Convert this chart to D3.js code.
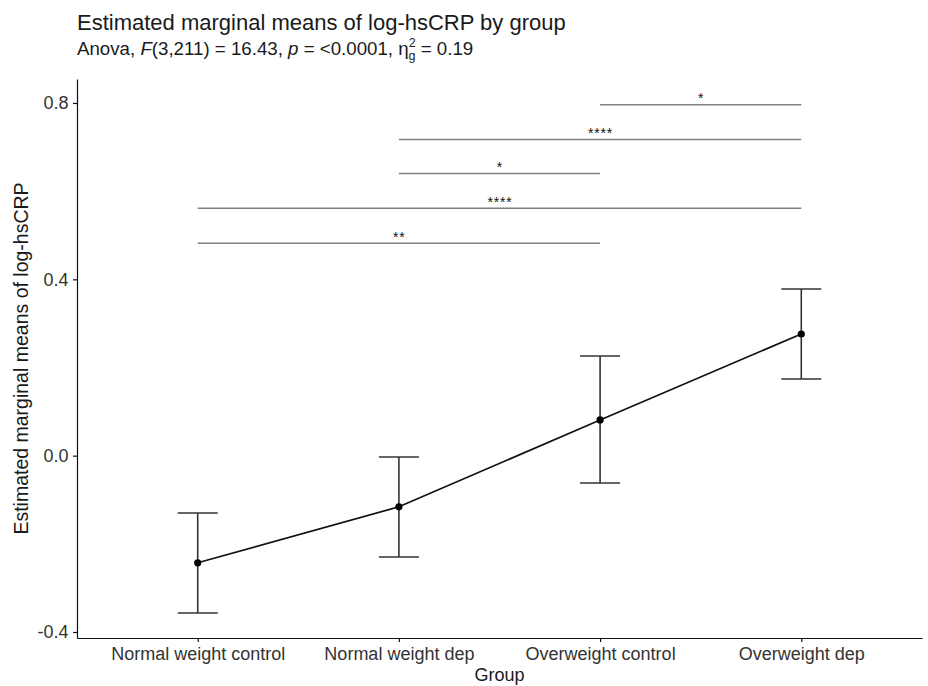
<!DOCTYPE html>
<html lang="en">
<head>
    <meta charset="UTF-8">
    <title>Estimated marginal means of log-hsCRP by group</title>
    <script src="https://d3js.org/d3.v7.min.js"></script>
    <style>
        body { margin: 0; background: #fff; }
        svg { font-family: "Liberation Sans", Arial, sans-serif; }
        .title { font-size: 22px; fill: #1a1a1a; }
        .subtitle { font-size: 18.7px; fill: #1a1a1a; }
        .axis-title { font-size: 18px; fill: #1a1a1a; }
        .tick text { font-size: 18px; fill: #333; font-family: "Liberation Sans", Arial, sans-serif; }
        .tick line, .domain { stroke: #111; stroke-width: 1.2px; }
        .sig { font-size: 14px; fill: #111; letter-spacing: 0.8px; }
    </style>
</head>
<body>
    <svg width="928" height="686"></svg>

    <script>
        // groups and estimated marginal means with 95% CI
        var groups = ["Normal weight control", "Normal weight dep", "Overweight control", "Overweight dep"];
        var emmean = [-0.243, -0.116, 0.081, 0.276];
        var lowerCL = [-0.357, -0.230, -0.062, 0.174];
        var upperCL = [-0.130, -0.003, 0.226, 0.378];

        // pairwise comparisons shown as brackets
        var compFrom = ["Overweight control", "Normal weight dep", "Normal weight dep", "Normal weight control", "Normal weight control"];
        var compTo = ["Overweight dep", "Overweight dep", "Overweight control", "Overweight dep", "Overweight control"];
        var compY = [0.796, 0.717, 0.640, 0.561, 0.482];
        var compLabel = ["*", "****", "*", "****", "**"];

        var yTicks = [-0.4, 0.0, 0.4, 0.8];

        var panel = { left: 77, right: 922, top: 79, bottom: 638 };

        var svg = d3.select("svg");

        var x = d3.scalePoint()
            .domain(groups)
            .range([panel.left, panel.right])
            .padding(0.6);

        var y = d3.scaleLinear()
            .domain([-0.4136, 0.8544])
            .range([panel.bottom, panel.top]);

        var data = groups.map(function(g, i) {
            return { group: g, mean: emmean[i], lo: lowerCL[i], hi: upperCL[i] };
        });

        // brackets
        var comps = compLabel.map(function(l, i) {
            return { from: compFrom[i], to: compTo[i], y: compY[i], label: l };
        });

        svg.selectAll(".bracket")
            .data(comps)
            .enter()
            .append("line")
            .attr("class", "bracket")
            .attr("x1", function(d) { return x(d.from); })
            .attr("x2", function(d) { return x(d.to); })
            .attr("y1", function(d) { return y(d.y); })
            .attr("y2", function(d) { return y(d.y); })
            .style("stroke", "#808080")
            .style("stroke-width", 1.5);

        svg.selectAll(".sig")
            .data(comps)
            .enter()
            .append("text")
            .attr("class", "sig")
            .attr("x", function(d) { return (x(d.from) + x(d.to)) / 2 + 0.4; })
            .attr("y", function(d) { return y(d.y) - 1.5; })
            .attr("text-anchor", "middle")
            .text(function(d) { return d.label; });

        // error bars
        var eb = svg.append("g").attr("class", "errorbars");
        var capHalf = 20;

        eb.selectAll(".eb-v")
            .data(data)
            .enter()
            .append("line")
            .attr("x1", function(d) { return x(d.group); })
            .attr("x2", function(d) { return x(d.group); })
            .attr("y1", function(d) { return y(d.lo); })
            .attr("y2", function(d) { return y(d.hi); })
            .style("stroke", "#333")
            .style("stroke-width", 1.6);

        ["lo", "hi"].forEach(function(k) {
            eb.selectAll(".cap-" + k)
                .data(data)
                .enter()
                .append("line")
                .attr("x1", function(d) { return x(d.group) - capHalf; })
                .attr("x2", function(d) { return x(d.group) + capHalf; })
                .attr("y1", function(d) { return y(d[k]); })
                .attr("y2", function(d) { return y(d[k]); })
                .style("stroke", "#333")
                .style("stroke-width", 1.6);
        });

        // mean line
        var line = d3.line()
            .x(function(d) { return x(d.group); })
            .y(function(d) { return y(d.mean); });

        svg.append("path")
            .datum(data)
            .attr("d", line)
            .style("fill", "none")
            .style("stroke", "#111")
            .style("stroke-width", 1.7);

        svg.selectAll(".pt")
            .data(data)
            .enter()
            .append("circle")
            .attr("cx", function(d) { return x(d.group); })
            .attr("cy", function(d) { return y(d.mean); })
            .attr("r", 3.6)
            .style("fill", "#000");

        // axes
        svg.append("g")
            .attr("transform", "translate(0," + panel.bottom + ")")
            .call(d3.axisBottom(x).tickSize(4).tickPadding(5).tickSizeOuter(0));

        svg.append("g")
            .attr("transform", "translate(" + panel.left + ",0)")
            .call(d3.axisLeft(y).tickValues(yTicks)
                .tickFormat(function(d) { return d.toFixed(1); })
                .tickSize(4).tickPadding(4.5).tickSizeOuter(0));

        // axis titles
        svg.append("text")
            .attr("class", "axis-title")
            .attr("x", (panel.left + panel.right) / 2)
            .attr("y", 681)
            .attr("text-anchor", "middle")
            .text("Group");

        svg.append("text")
            .attr("class", "axis-title")
            .style("font-size", "19.5px")
            .attr("transform", "translate(28," + ((panel.top + panel.bottom) / 2) + ") rotate(-90)")
            .attr("text-anchor", "middle")
            .text("Estimated marginal means of log-hsCRP");

        // titles
        svg.append("text")
            .attr("class", "title")
            .attr("x", 77)
            .attr("y", 30)
            .text("Estimated marginal means of log-hsCRP by group");

        var sub = svg.append("text")
            .attr("class", "subtitle")
            .attr("x", 77)
            .attr("y", 55);
        sub.append("tspan").text("Anova, ");
        sub.append("tspan").style("font-style", "italic").text("F");
        sub.append("tspan").text("(3,211) = 16.43, ");
        sub.append("tspan").style("font-style", "italic").text("p");
        sub.append("tspan").text(" = <0.0001, η");
        sub.append("tspan").attr("dy", -8).style("font-size", "12.5px").text("2");
        sub.append("tspan").attr("dx", -7).attr("dy", 13).style("font-size", "12.5px").text("g");
        sub.append("tspan").attr("dy", -5).text(" = 0.19");
    </script>
</body>
</html>
